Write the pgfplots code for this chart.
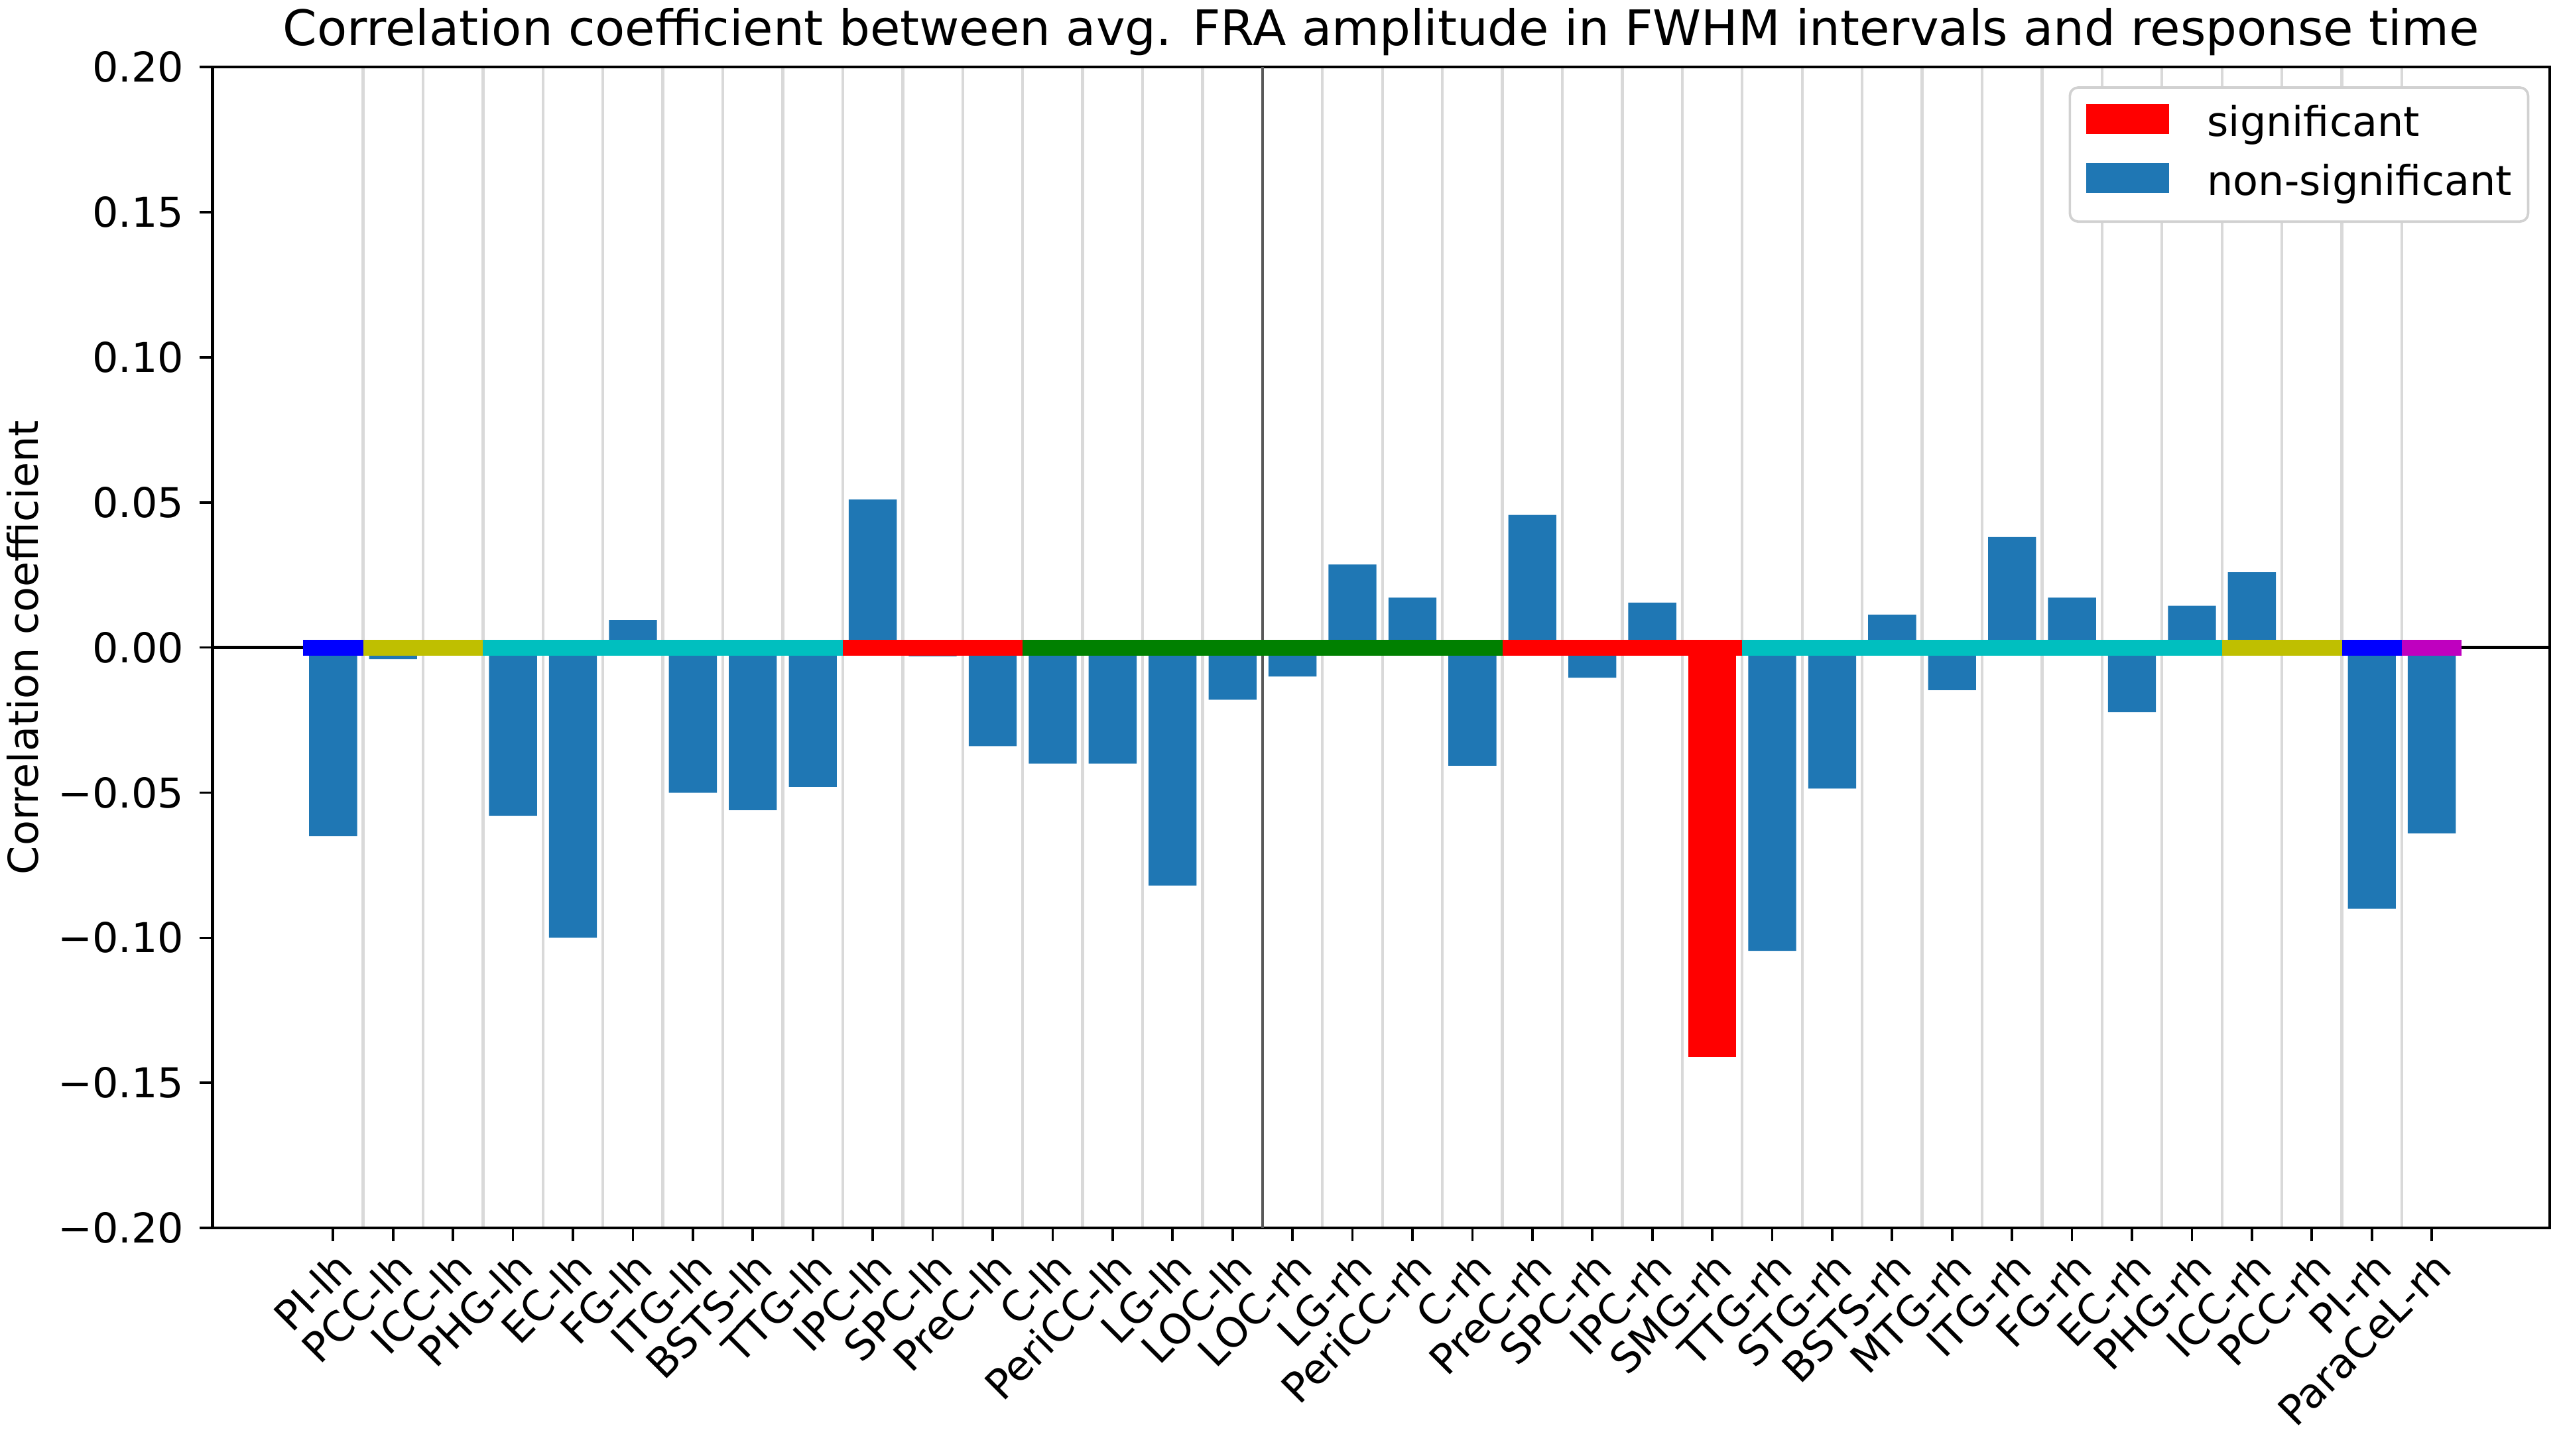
\documentclass[border=0pt]{standalone}
\usepackage{fontspec}
\setmainfont{DejaVu Sans}
\usepackage{pgfplots}
\usepackage{pgfplotstable}
\pgfplotsset{compat=1.18}
\definecolor{mplblue}{HTML}{1F77B4}
\definecolor{mplb}{HTML}{0000FF}
\definecolor{mply}{HTML}{BFBF00}
\definecolor{mplc}{HTML}{00BFBF}
\definecolor{mplr}{HTML}{FF0000}
\definecolor{mplg}{HTML}{008000}
\definecolor{mplm}{HTML}{BF00BF}

\pgfplotstableread{
x y
0 -0.065
1 -0.004
2 -0.0005
3 -0.058
4 -0.100
5 0.0095
6 -0.050
7 -0.056
8 -0.048
9 0.051
10 -0.003
11 -0.034
12 -0.040
13 -0.040
14 -0.082
15 -0.018
16 -0.010
17 0.0286
18 0.0172
19 -0.0407
20 0.0457
21 -0.0104
22 0.0155
24 -0.1045
25 -0.0486
26 0.0113
27 -0.0147
28 0.0381
29 0.0172
30 -0.0223
31 0.0144
32 0.0259
33 -0.0005
34 -0.090
35 -0.064
}\nonsig

\pgfplotstableread{
x y
23 -0.141
}\sig

\begin{document}
\begin{tikzpicture}
\begin{axis}[
  name=ax,
  scale only axis,
  width=568.4pt, height=282.4pt,
  xmin=-2.01, xmax=36.97,
  ymin=-0.2, ymax=0.2,
  axis line style={line width=0.7pt},
  tick style={line width=0.6pt, black},
  tick align=outside,
  major tick length=3.2pt,
  minor tick length=0pt,
  xtick pos=left, ytick pos=left,
  xtick={0,...,35},
  xticklabels={PI-lh,PCC-lh,ICC-lh,PHG-lh,EC-lh,FG-lh,ITG-lh,BSTS-lh,TTG-lh,IPC-lh,SPC-lh,PreC-lh,C-lh,PeriCC-lh,LG-lh,LOC-lh,LOC-rh,LG-rh,PeriCC-rh,C-rh,PreC-rh,SPC-rh,IPC-rh,SMG-rh,TTG-rh,STG-rh,BSTS-rh,MTG-rh,ITG-rh,FG-rh,EC-rh,PHG-rh,ICC-rh,PCC-rh,PI-rh,ParaCeL-rh},
  minor xtick={0.5,1.5,...,34.5},
  xminorgrids,
  minor grid style={black!15, line width=0.7pt},
  ytick={-0.2,-0.15,-0.1,-0.05,0,0.05,0.1,0.15,0.2},
  yticklabels={−0.20,−0.15,−0.10,−0.05,0.00,0.05,0.10,0.15,0.20},
  tick label style={font=\fontsize{10}{12}\selectfont},
  xticklabel style={rotate=45, anchor=north east, inner sep=0pt},
  xticklabel shift=1.5pt,
  yticklabel style={anchor=east, inner sep=0pt},
  yticklabel shift=3.6pt,
  title={Correlation coefficient between avg. FRA amplitude in FWHM intervals and response time},
  every axis title/.style={at={(axis description cs:0.5,1)}, anchor=base, yshift=5.3pt, font=\fontsize{11.9}{14}\selectfont},
  ylabel={Correlation coefficient},
  every axis y label/.style={at={([xshift=-46.2pt]axis description cs:0,0.5)}, rotate=90, anchor=center, font=\fontsize{10}{12}\selectfont},
  legend style={at={(axis description cs:1,1)}, anchor=north east, xshift=-5pt, yshift=-4.7pt,
    draw=black!18, line width=0.6pt, rounded corners=2pt, fill=white,
    inner xsep=4pt, inner ysep=4pt, row sep=4pt, column sep=9.2pt,
    nodes={inner sep=0pt, text height=7.6pt, text depth=2.4pt},
    font=\fontsize{10}{12}\selectfont},
  legend cell align=left,
]
\addplot[ybar, bar width=0.8, bar shift=0pt, fill=mplr, draw=none,
  legend image code/.code={\fill[mplr, sharp corners] (0pt,-2pt) rectangle (20.2pt,5.3pt);}] table[x=x,y=y]{\sig};
\addlegendentry{significant}
\addplot[ybar, bar width=0.8, bar shift=0pt, fill=mplblue, draw=none,
  legend image code/.code={\fill[mplblue, sharp corners] (0pt,-2pt) rectangle (20.2pt,5.3pt);}] table[x=x,y=y]{\nonsig};
\addlegendentry{non-significant}
% zero line
\addplot[forget plot, black, line width=0.9pt] coordinates {(-2.01,0) (36.97,0)};
% hemisphere separator
\addplot[forget plot, black!65, line width=0.6pt] coordinates {(15.5,-0.2) (15.5,0.2)};
% colour bands
\addplot[forget plot, mplb, line width=3.9pt, line cap=butt] coordinates {(-0.5,0) (0.5,0)};
\addplot[forget plot, mply, line width=3.9pt, line cap=butt] coordinates {(0.5,0) (2.5,0)};
\addplot[forget plot, mplc, line width=3.9pt, line cap=butt] coordinates {(2.5,0) (8.5,0)};
\addplot[forget plot, mplr, line width=3.9pt, line cap=butt] coordinates {(8.5,0) (11.5,0)};
\addplot[forget plot, mplg, line width=3.9pt, line cap=butt] coordinates {(11.5,0) (15.5,0)};
\addplot[forget plot, mplg, line width=3.9pt, line cap=butt] coordinates {(15.5,0) (19.5,0)};
\addplot[forget plot, mplr, line width=3.9pt, line cap=butt] coordinates {(19.5,0) (23.5,0)};
\addplot[forget plot, mplc, line width=3.9pt, line cap=butt] coordinates {(23.5,0) (31.5,0)};
\addplot[forget plot, mply, line width=3.9pt, line cap=butt] coordinates {(31.5,0) (33.5,0)};
\addplot[forget plot, mplb, line width=3.9pt, line cap=butt] coordinates {(33.5,0) (34.5,0)};
\addplot[forget plot, mplm, line width=3.9pt, line cap=butt] coordinates {(34.5,0) (35.5,0)};
\end{axis}
\pgfresetboundingbox
\path[use as bounding box] ([shift={(-51.7pt,-55.3pt)}]ax.south west) rectangle ([shift={(2.7pt,16.3pt)}]ax.north east);
\end{tikzpicture}
\end{document}
